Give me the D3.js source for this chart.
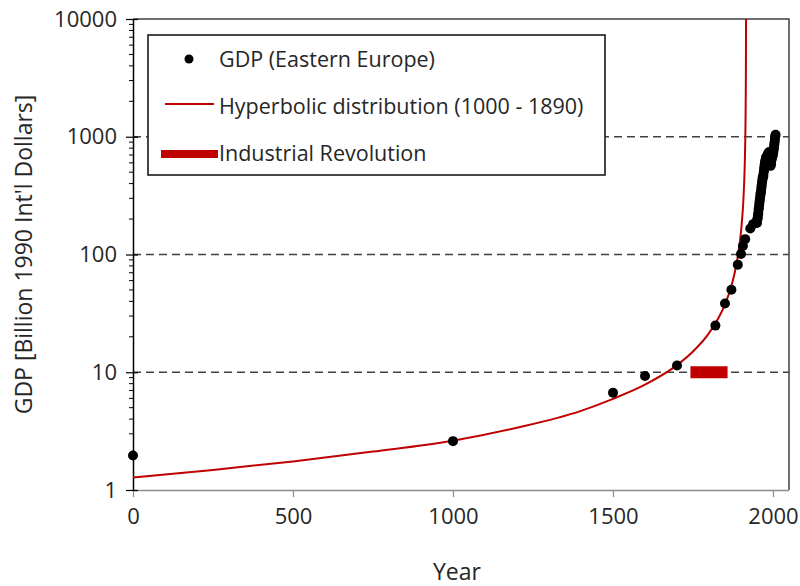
<!DOCTYPE html>
<html>
<head>
<meta charset="utf-8">
<script src="https://d3js.org/d3.v7.min.js"></script>
<style>
  body { margin: 0; background: #fff; }
  text { font-family: "Open Sans", sans-serif; fill: #262626; }
</style>
</head>
<body>
<svg id="chart" width="800" height="586"></svg>
<script>
// GDP of Eastern Europe, billion 1990 Int'l dollars
const gdpYears = [0, 1000, 1500, 1600, 1700, 1820, 1850, 1870, 1890, 1900, 1906, 1913, 1929, 1938,
  1950, 1951, 1952, 1953, 1954, 1955, 1956, 1957, 1958, 1959, 1960, 1961, 1962, 1963, 1964, 1965,
  1966, 1967, 1968, 1969, 1970, 1971, 1972, 1973, 1974, 1975, 1976, 1977, 1978, 1979, 1980, 1981,
  1982, 1983, 1984, 1985, 1986, 1987, 1988, 1989, 1990, 1991, 1992, 1993, 1994, 1995, 1996, 1997,
  1998, 1999, 2000, 2001, 2002, 2003, 2004, 2005, 2006, 2007, 2008];
const gdpValues = [1.96, 2.6, 6.7, 9.3, 11.4, 24.9, 38.4, 50.2, 82, 101, 118, 135, 166, 181,
  185, 199, 203, 214, 224, 241, 251, 266, 281, 294, 311, 328, 335, 354, 374, 391,
  414, 432, 450, 464, 465, 500, 524, 551, 582, 604, 619, 640, 659, 668, 674, 670,
  685, 697, 714, 710, 727, 728, 742, 731, 661, 587, 566, 574, 596, 633, 656, 674,
  688, 693, 720, 743, 775, 811, 858, 899, 954, 1010, 1040];

// hyperbolic fit (1000 - 1890)
const fitYears = [0, 250, 500, 750, 1000, 1200, 1400, 1500, 1600, 1700, 1750, 1800, 1830, 1850,
  1870, 1880, 1890, 1895, 1900, 1905, 1908, 1910, 1912, 1914, 1915, 1915.5, 1915.75];
const fitValues = [1.28, 1.48, 1.75, 2.12, 2.62, 3.38, 4.7, 5.95, 7.85, 11.5, 15.0, 21.5, 29.0, 37.7,
  54.1, 69.2, 95.8, 119, 156, 226, 311, 415, 623, 1245, 2490, 4980, 10000];

// Industrial revolution span
const industrialSpan = [1742, 1858];
const industrialLevel = 10;

const xTicks = [0, 500, 1000, 1500, 2000];
const yMajor = [1, 10, 100, 1000, 10000];
const gridValues = [10, 100, 1000];

const legendLabels = ["GDP (Eastern Europe)", "Hyperbolic distribution (1000 - 1890)", "Industrial Revolution"];

const red = "#c00000";
const svg = d3.select("#chart");
const pLeft = 133, pRight = 789, pTop = 19, pBottom = 490;

const x = d3.scaleLinear().domain([0, 2050]).range([pLeft, pRight]);
const y = d3.scaleLog().domain([1, 10000]).range([pBottom, pTop]);

// dashed grid
svg.append("g").selectAll("line")
  .data(gridValues)
  .enter().append("line")
  .attr("x1", pLeft).attr("x2", pRight)
  .attr("y1", d => y(d)).attr("y2", d => y(d))
  .attr("stroke", "#404040")
  .attr("stroke-width", 1.6)
  .attr("stroke-dasharray", "8,5");

// frame top / right
svg.append("path")
  .attr("d", `M${pLeft},${pTop}H${pRight}V${pBottom}`)
  .attr("fill", "none")
  .attr("stroke", "#404040")
  .attr("stroke-width", 1.5);

// x axis
const xAxis = svg.append("g")
  .attr("transform", `translate(0,${pBottom})`)
  .call(d3.axisBottom(x).tickValues(xTicks).tickFormat(d3.format("d")).tickSize(7).tickPadding(11).tickSizeOuter(0));
xAxis.select(".domain").attr("stroke", "#8c8c8c").attr("stroke-width", 1.5)
  .attr("d", `M${pLeft},0.5H${pRight}`);
xAxis.selectAll(".tick line").attr("stroke", "#8c8c8c").attr("stroke-width", 1.2);
xAxis.selectAll(".tick text").style("font-size", "22px").attr("fill", "#262626");

// y axis
const yAxis = svg.append("g")
  .attr("transform", `translate(${pLeft},0)`)
  .call(d3.axisLeft(y).tickValues(yMajor).tickFormat(d3.format("d")).tickSize(7).tickPadding(9).tickSizeOuter(0));
yAxis.select(".domain").attr("stroke", "#000").attr("stroke-width", 1.5);
yAxis.selectAll(".tick line").attr("stroke", "#000").attr("stroke-width", 1.2).attr("x2", -7).attr("x1", 5);
yAxis.selectAll(".tick text").style("font-size", "22px").attr("fill", "#262626");

// minor ticks
const minor = y.ticks().filter(d => yMajor.indexOf(d) < 0);
svg.append("g").selectAll("line")
  .data(minor)
  .enter().append("line")
  .attr("x1", pLeft - 4).attr("x2", pLeft)
  .attr("y1", d => y(d)).attr("y2", d => y(d))
  .attr("stroke", "#000").attr("stroke-width", 1);

// axis titles
svg.append("text")
  .attr("x", 457).attr("y", 580)
  .attr("text-anchor", "middle")
  .style("font-size", "23px")
  .text("Year");
svg.append("text")
  .attr("transform", `translate(32,${(pTop + pBottom) / 2}) rotate(-90)`)
  .attr("text-anchor", "middle")
  .style("font-size", "23px")
  .text("GDP [Billion 1990 Int'l Dollars]");

// clip for the fit curve
svg.append("clipPath").attr("id", "plotclip")
  .append("rect").attr("x", pLeft).attr("y", pTop).attr("width", pRight - pLeft).attr("height", pBottom - pTop);

const fitData = fitYears.map((t, i) => ({ t: t, v: fitValues[i] }));
svg.append("path")
  .datum(fitData)
  .attr("clip-path", "url(#plotclip)")
  .attr("fill", "none")
  .attr("stroke", red)
  .attr("stroke-width", 2)
  .attr("d", d3.line().x(d => x(d.t)).y(d => y(d.v)).curve(d3.curveMonotoneX));

// industrial revolution bar
svg.append("rect")
  .attr("x", x(industrialSpan[0]))
  .attr("y", y(industrialLevel) - 6)
  .attr("width", x(industrialSpan[1]) - x(industrialSpan[0]))
  .attr("height", 12)
  .attr("fill", red);

// GDP dots
const gdpData = gdpYears.map((t, i) => ({ t: t, v: gdpValues[i] }));
svg.append("g").selectAll("circle")
  .data(gdpData)
  .enter().append("circle")
  .attr("cx", d => x(d.t))
  .attr("cy", d => y(d.v))
  .attr("r", 5)
  .attr("fill", "#000");

// legend
const lg = svg.append("g");
lg.append("rect")
  .attr("x", 148).attr("y", 35).attr("width", 457).attr("height", 140)
  .attr("fill", "#fff").attr("stroke", "#1a1a1a").attr("stroke-width", 1.6);
lg.append("circle").attr("cx", 189).attr("cy", 59).attr("r", 4.5).attr("fill", "#000");
lg.append("line").attr("x1", 165).attr("x2", 214).attr("y1", 104).attr("y2", 104)
  .attr("stroke", red).attr("stroke-width", 2);
lg.append("rect").attr("x", 161).attr("y", 150).attr("width", 57).attr("height", 8).attr("fill", red);
lg.selectAll("text.lab")
  .data(legendLabels)
  .enter().append("text")
  .attr("class", "lab")
  .attr("x", 219)
  .attr("y", (d, i) => 59 + i * 47)
  .attr("dy", "0.35em")
  .style("font-size", "21.5px")
  .text(d => d);
</script>
</body>
</html>
